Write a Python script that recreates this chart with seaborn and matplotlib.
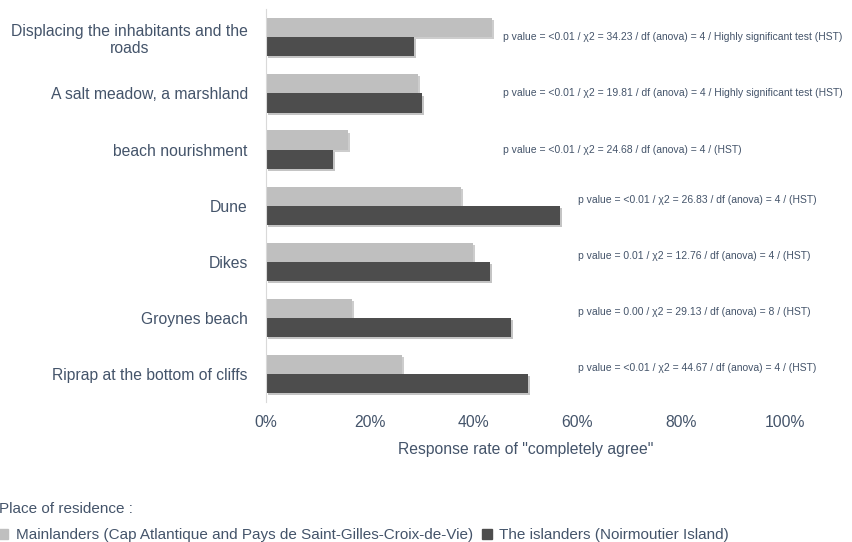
import pandas as pd
import matplotlib
matplotlib.use('Agg')
import matplotlib.pyplot as plt
import matplotlib.patheffects as pe
from matplotlib.ticker import PercentFormatter
import seaborn as sns

# data
measures = ['Displacing the inhabitants and the\nroads', 'A salt meadow, a marshland',
            'beach nourishment', 'Dune', 'Dikes', 'Groynes beach',
            'Riprap at the bottom of cliffs']
mainlanders = [0.436, 0.293, 0.159, 0.376, 0.400, 0.166, 0.262]
islanders = [0.285, 0.301, 0.130, 0.566, 0.432, 0.472, 0.505]
groups = ['Mainlanders (Cap Atlantique and Pays de Saint-Gilles-Croix-de-Vie)',
          'The islanders (Noirmoutier Island)']
notes = ['p value = <0.01 / \u03c72 = 34.23 / df (anova) = 4 / Highly significant test (HST)',
         'p value = <0.01 / \u03c72 = 19.81 / df (anova) = 4 / Highly significant test (HST)',
         'p value = <0.01 / \u03c72 = 24.68 / df (anova) = 4 / (HST)',
         'p value = <0.01 / \u03c72 = 26.83 / df (anova) = 4 / (HST)',
         'p value = 0.01 / \u03c72 = 12.76 / df (anova) = 4 / (HST)',
         'p value = 0.00 / \u03c72 = 29.13 / df (anova) = 8 / (HST)',
         'p value = <0.01 / \u03c72 = 44.67 / df (anova) = 4 / (HST)']

df = pd.DataFrame({
    'measure': measures * 2,
    'rate': mainlanders + islanders,
    'group': [groups[0]] * len(measures) + [groups[1]] * len(measures),
})

sns.set_style('white')
plt.rcParams['font.family'] = ['Liberation Sans', 'DejaVu Sans']
txt = '#44546A'

fig = plt.figure(figsize=(8.52, 5.42), dpi=100)
ax = fig.add_axes([0.312, 0.258, 0.609, 0.725])

sns.barplot(data=df, y='measure', x='rate', hue='group', orient='h',
            palette=['#BFBFBF', '#4D4D4D'], width=0.68, ax=ax, legend=False,
            linewidth=0)

shadow = [pe.SimplePatchShadow(offset=(1.5, -1.5), alpha=0.25), pe.Normal()]
for bar in ax.patches:
    bar.set_edgecolor('none')
    bar.set_path_effects(shadow)

ax.set_xlim(0, 1)
ax.xaxis.set_major_formatter(PercentFormatter(1.0, decimals=0))
ax.set_xticks([0, 0.2, 0.4, 0.6, 0.8, 1.0])
ax.set_xlabel('Response rate of "completely agree"', color=txt, fontsize=11.3, labelpad=9)
ax.set_ylabel('')
ax.tick_params(axis='both', length=0, labelcolor=txt, labelsize=11.3)
ax.tick_params(axis='x', pad=9)
ax.tick_params(axis='y', pad=13)
for lab in ax.get_yticklabels():
    lab.set_multialignment('center')

for s in ['top', 'right', 'bottom']:
    ax.spines[s].set_visible(False)
ax.spines['left'].set_color('#D9D9D9')

for i, note in enumerate(notes):
    x = 0.457 if i < 3 else 0.601
    y = i if i < 3 else i - 0.1
    ax.text(x, y, note, fontsize=7.5, color=txt, va='center', ha='left', clip_on=False)

handles = [plt.Rectangle((0, 0), 1, 1, color=c) for c in ['#BFBFBF', '#4D4D4D']]
leg = fig.legend(handles, groups, loc='lower left', bbox_to_anchor=(-0.017, -0.026),
                 ncol=2, frameon=False, title='Place of residence :', alignment='left',
                 fontsize=11, title_fontsize=11, handlelength=0.6, handleheight=0.6,
                 handletextpad=0.5, columnspacing=0.6, labelcolor=txt, labelspacing=0.8)
leg.get_title().set_color(txt)

fig.savefig('out.png', dpi=100)
